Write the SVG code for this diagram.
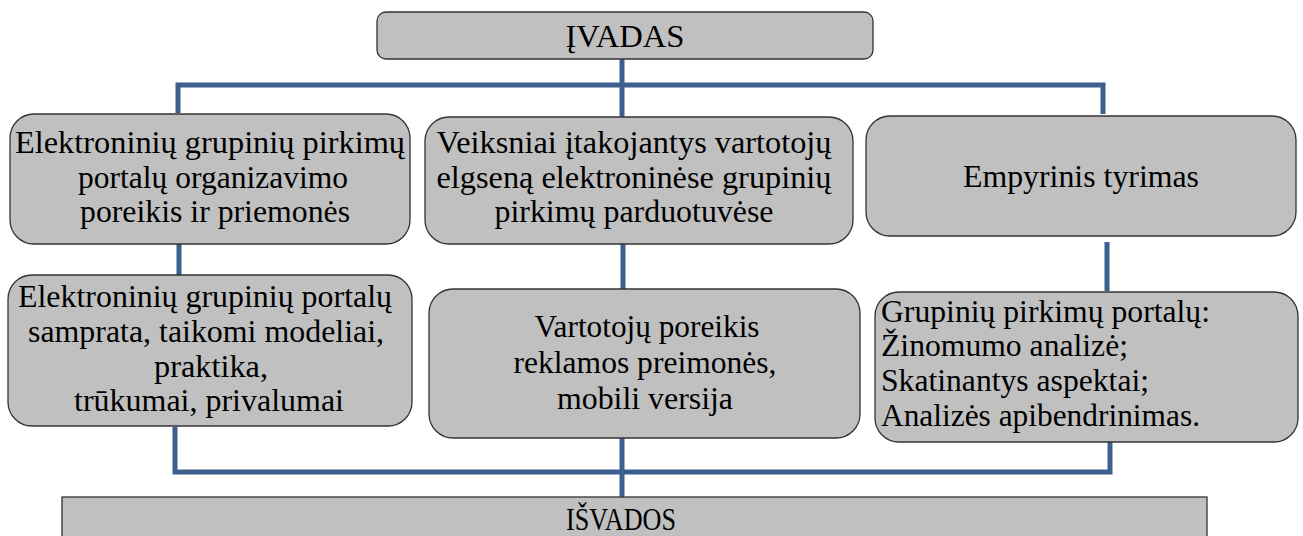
<svg xmlns="http://www.w3.org/2000/svg" width="1303" height="536" viewBox="0 0 1303 536">
<style>
.box{fill:#c0c0c0;stroke:#333;stroke-width:1.3}
.t{font-family:'Liberation Serif','Times New Roman',serif;font-size:32px;fill:#000}
.c{text-anchor:middle}
.ln{fill:none;stroke:#3c5f8e;stroke-width:5;stroke-linejoin:miter}
</style>
<rect width="1303" height="536" fill="#fff"/>
<g id="connectors">
<polyline class="ln" points="178,113 178,85 1103,85 1103,114"/>
<line class="ln" x1="622" y1="59" x2="622" y2="117"/>
<line class="ln" x1="179" y1="244" x2="179" y2="276"/>
<line class="ln" x1="623" y1="244" x2="623" y2="289"/>
<line class="ln" x1="1107" y1="242" x2="1107" y2="291"/>
<polyline class="ln" points="175,427 175,472 1110,472 1110,442"/>
<line class="ln" x1="622" y1="438" x2="622" y2="497"/>
</g>
<g id="ivadas">
<rect class="box" x="377" y="12" width="496" height="47" rx="9"/>
<text class="t c" x="625" y="47" textLength="119" lengthAdjust="spacingAndGlyphs">ĮVADAS</text>
</g>
<g id="n1">
<rect class="box" x="10" y="114" width="400" height="130" rx="24"/>
<text class="t c" x="210" y="153" textLength="390" lengthAdjust="spacingAndGlyphs">Elektroninių grupinių pirkimų</text>
<text class="t c" x="213" y="188" textLength="270" lengthAdjust="spacingAndGlyphs">portalų organizavimo</text>
<text class="t c" x="215" y="222" textLength="270" lengthAdjust="spacingAndGlyphs">poreikis ir priemonės</text>
</g>
<g id="n2">
<rect class="box" x="425" y="117" width="428" height="127" rx="24"/>
<text class="t c" x="634" y="153" textLength="395" lengthAdjust="spacingAndGlyphs">Veiksniai įtakojantys vartotojų</text>
<text class="t c" x="634" y="188" textLength="395" lengthAdjust="spacingAndGlyphs">elgseną elektroninėse grupinių</text>
<text class="t c" x="634" y="222" textLength="279" lengthAdjust="spacingAndGlyphs">pirkimų parduotuvėse</text>
</g>
<g id="n3">
<rect class="box" x="866" y="116" width="430" height="120" rx="24"/>
<text class="t c" x="1081" y="187" textLength="236" lengthAdjust="spacingAndGlyphs">Empyrinis tyrimas</text>
</g>
<g id="n4">
<rect class="box" x="8" y="275" width="404" height="151" rx="24"/>
<text class="t c" x="205" y="307" textLength="374" lengthAdjust="spacingAndGlyphs">Elektroninių grupinių portalų</text>
<text class="t c" x="206" y="342" textLength="356" lengthAdjust="spacingAndGlyphs">samprata, taikomi modeliai,</text>
<text class="t c" x="211" y="377" textLength="114" lengthAdjust="spacingAndGlyphs">praktika,</text>
<text class="t c" x="209" y="411" textLength="270" lengthAdjust="spacingAndGlyphs">trūkumai, privalumai</text>
</g>
<g id="n5">
<rect class="box" x="429" y="289" width="431" height="149" rx="24"/>
<text class="t c" x="647" y="337" textLength="225" lengthAdjust="spacingAndGlyphs">Vartotojų poreikis</text>
<text class="t c" x="645" y="373" textLength="263" lengthAdjust="spacingAndGlyphs">reklamos preimonės,</text>
<text class="t c" x="645" y="409" textLength="176" lengthAdjust="spacingAndGlyphs">mobili versija</text>
</g>
<g id="n6">
<rect class="box" x="875" y="292" width="423" height="150" rx="24"/>
<text class="t" x="881" y="322" textLength="329" lengthAdjust="spacingAndGlyphs">Grupinių pirkimų portalų:</text>
<text class="t" x="881" y="356" textLength="247" lengthAdjust="spacingAndGlyphs">Žinomumo analizė;</text>
<text class="t" x="881" y="391" textLength="268" lengthAdjust="spacingAndGlyphs">Skatinantys aspektai;</text>
<text class="t" x="881" y="426" textLength="319" lengthAdjust="spacingAndGlyphs">Analizės apibendrinimas.</text>
</g>
<g id="isvados">
<rect class="box" x="62" y="497" width="1145" height="60"/>
<text class="t c" x="621" y="530" textLength="110" lengthAdjust="spacingAndGlyphs">IŠVADOS</text>
</g>
</svg>
